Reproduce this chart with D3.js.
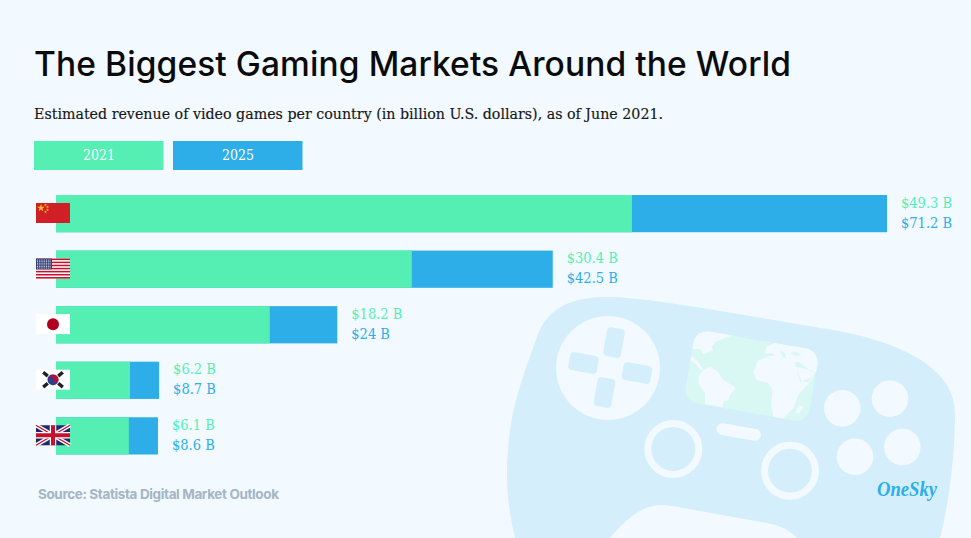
<!DOCTYPE html>
<html lang="en">
<head>
<meta charset="UTF-8">
<title>The Biggest Gaming Markets Around the World</title>
<script src="https://cdn.jsdelivr.net/npm/d3@7"></script>
<style>
  html, body { margin: 0; padding: 0; background: #f2faff; }
  svg { display: block; }
  .serif { font-family: "DejaVu Serif Condensed", "DejaVu Serif", serif; }
  .sans { font-family: Inter, Lato, sans-serif; }
</style>
</head>
<body>
<svg width="971" height="538" viewBox="0 0 971 538"></svg>
<script>
const countries = ["China", "USA", "Japan", "South Korea", "UK"];
const revenue2021 = [49.3, 30.4, 18.2, 6.2, 6.1];
const revenue2025 = [71.2, 42.5, 24, 8.7, 8.6];
const years = ["2021", "2025"];

const GREEN = "#55efb3", BLUE = "#2daee8", BG = "#f2faff", PALE = "#d4eefb";
const barLeft = 56, flagX = 36, flagW = 34, flagH = 20;

const svg = d3.select("svg");
svg.append("rect").attr("width", 971).attr("height", 538).attr("fill", BG);

const x = d3.scaleLinear().domain([0, 71.2]).range([57.8, 887]);
const y = d3.scaleBand().domain(countries).range([195, 454.5]).paddingInner(0.33);

// background controller, page coordinates
function drawController(g) {
  g.append("path").attr("fill", PALE)
    .attr("d", `M515,538 C506,500 505,470 510,430 C515,395 527,365 537,337
      C548,305 575,296 613,297 C660,299 760,318 833,330 C880,338 955,360 955,413
      C955,450 950,500 940,538 L797,538 C785,526 775,525 767,523 L672,506
      C645,501 628,517 610,538 Z`);

  g.append("circle").attr("cx", 608).attr("cy", 368).attr("r", 52).attr("fill", BG);
  const pads = [[614, 342.5, 18, 29], [604.5, 392.5, 18, 29], [583.5, 363, 29, 18], [637, 373, 29, 18]];
  g.selectAll(".pad").data(pads).join("rect").attr("class", "pad")
    .attr("x", d => -d[2] / 2).attr("y", d => -d[3] / 2)
    .attr("width", d => d[2]).attr("height", d => d[3]).attr("rx", 4)
    .attr("transform", d => `translate(${d[0]},${d[1]}) rotate(10)`)
    .attr("fill", PALE);

  // map screen
  svg.append("defs").append("clipPath").attr("id", "screen")
    .append("rect").attr("x", -63).attr("y", -36.5).attr("width", 126).attr("height", 73)
    .attr("rx", 14).attr("transform", "translate(751.5,376) rotate(10)");
  const map = g.append("g").attr("clip-path", "url(#screen)");
  map.append("rect").attr("x", 680).attr("y", 320).attr("width", 150).attr("height", 120).attr("fill", "#d9f7f3");
  // continents traced at 3x from the screen's corner
  map.append("path").attr("fill", BG).attr("transform", "translate(675,320) scale(0.3333)").attr("d", `
    M30,20 L185,42 L150,55 L122,65 L110,80 L114,92 L90,100 L85,102 L75,87 L52,87 L46,95 L30,90 Z
    M42,108 L55,112 L68,125 L84,148 L76,150 L62,132 L42,118 Z
    M70,170 L85,150 L105,140 L130,155 L145,180 L183,203 L165,225 L160,240 L145,245 L143,262 L90,252 L90,220 L72,195 Z
    M235,155 L250,120 L285,107 L340,105 L360,130 L375,185 L400,185 L420,160 L410,180 L370,225 L355,265 L325,295 L295,290 L288,255 L293,210 L280,190 L245,180 Z
    M268,100 L275,80 L300,68 L440,70 L440,155 L422,158 L395,145 L372,125 L345,130 L310,115 L290,100 Z
    M362,140 L395,147 L420,160 L405,175 L380,185 Z
    M358,282 L374,256 L386,260 L376,276 Z`);
  map.append("path").attr("fill", "#d9f7f3").attr("transform", "translate(675,320) scale(0.3333)").attr("d", `
    M315,92 L330,98 L335,118 L322,108 Z M345,100 L365,95 L380,105 L360,108 Z M310,112 L365,128 L345,122 Z`);

  // sticks, pill, buttons
  [[673.3, 449], [790, 470.7]].forEach(c => {
    g.append("circle").attr("cx", c[0]).attr("cy", c[1]).attr("r", 25.5)
      .attr("fill", "none").attr("stroke", BG).attr("stroke-width", 7);
  });
  g.append("rect").attr("x", -22.5).attr("y", -6).attr("width", 45).attr("height", 12).attr("rx", 6)
    .attr("transform", "translate(738.7,432) rotate(10)").attr("fill", BG);
  [[842.3, 408.3], [890, 398.7], [855, 456.7], [902.3, 447]].forEach(c => {
    g.append("circle").attr("cx", c[0]).attr("cy", c[1]).attr("r", 18.3).attr("fill", BG);
  });
}
drawController(svg.append("g"));

// title block
svg.append("text").attr("class", "sans").attr("x", 34).attr("y", 76)
  .attr("font-size", 33.5).attr("font-weight", 500).attr("fill", "#0b0b0b")
  .attr("textLength", 757).attr("lengthAdjust", "spacing")
  .text("The Biggest Gaming Markets Around the World");
svg.append("text").attr("class", "serif").attr("x", 34).attr("y", 119)
  .attr("font-size", 15.5).attr("fill", "#161616").attr("stroke", "#161616").attr("stroke-width", 0.15)
  .attr("textLength", 629).attr("lengthAdjust", "spacingAndGlyphs")
  .text("Estimated revenue of video games per country (in billion U.S. dollars), as of June 2021.");

// legend
const legend = svg.append("g").selectAll("g").data(years).join("g")
  .attr("transform", (d, i) => `translate(${34 + i * 139},141)`);
legend.append("rect").attr("width", 129.5).attr("height", 29)
  .attr("fill", (d, i) => i ? BLUE : GREEN);
legend.append("text").attr("class", "serif").attr("x", 65).attr("y", 19)
  .attr("text-anchor", "middle").attr("font-size", 14).attr("fill", "#fff").text(d => d);

// bars: 2025 full length behind, 2021 on top
const rows = svg.append("g").selectAll("g").data(countries).join("g")
  .attr("transform", d => `translate(0,${y(d)})`);
rows.append("rect").attr("x", barLeft).attr("height", y.bandwidth())
  .attr("width", (d, i) => x(revenue2025[i]) - barLeft).attr("fill", BLUE);
rows.append("rect").attr("x", barLeft).attr("height", y.bandwidth())
  .attr("width", (d, i) => x(revenue2021[i]) - barLeft).attr("fill", GREEN);

const money = v => `$${v} B`;
rows.append("text").attr("class", "serif").attr("x", (d, i) => x(revenue2025[i]) + 14).attr("y", 12.5)
  .attr("font-size", 14.5).attr("fill", GREEN).text((d, i) => money(revenue2021[i]));
rows.append("text").attr("class", "serif").attr("x", (d, i) => x(revenue2025[i]) + 14).attr("y", 32.5)
  .attr("font-size", 14.5).attr("fill", BLUE).text((d, i) => money(revenue2025[i]));

// flags
const flags = {
  "China": g => {
    g.append("rect").attr("width", flagW).attr("height", flagH).attr("fill", "#d01f26");
    g.append("path").attr("d", d3.symbol(d3.symbolStar, 18)).attr("transform", "translate(5,5)").attr("fill", "#f9c41c");
    [[9.5, 2], [11.5, 4], [11.5, 7], [9.5, 9]].forEach(p => {
      g.append("path").attr("d", d3.symbol(d3.symbolStar, 3)).attr("transform", `translate(${p})`).attr("fill", "#f9c41c");
    });
  },
  "USA": g => {
    g.append("rect").attr("width", flagW).attr("height", flagH).attr("fill", "#fff");
    d3.range(0, 13, 2).forEach(i => {
      g.append("rect").attr("y", i * flagH / 13).attr("width", flagW).attr("height", flagH / 13).attr("fill", "#c8102e");
    });
    g.append("rect").attr("width", 16).attr("height", 10.8).attr("fill", "#2e3a70");
    d3.range(6).forEach(r => d3.range(8).forEach(c => {
      g.append("rect").attr("x", 1 + c * 1.8).attr("y", 1 + r * 1.6).attr("width", 1).attr("height", 1).attr("fill", "#d5dae8");
    }));
  },
  "Japan": g => {
    g.append("rect").attr("width", flagW).attr("height", flagH).attr("fill", "#fff");
    g.append("circle").attr("cx", 17).attr("cy", 10).attr("r", 6).attr("fill", "#b00020");
  },
  "South Korea": g => {
    g.append("rect").attr("width", flagW).attr("height", flagH).attr("fill", "#fff");
    g.append("circle").attr("cx", 17).attr("cy", 10).attr("r", 5.5).attr("fill", "#2b3f8c");
    g.append("path").attr("d", "M11.6,10 A5.5,5.5 0 0 1 22.5,10 A2.7,2.7 0 0 1 17,10 A2.7,2.7 0 0 0 11.6,10 Z").attr("fill", "#b5103c");
    [[9.5, 4.5, 40], [24.5, 4.5, -40], [9.5, 15.5, -40], [24.5, 15.5, 40]].forEach(t => {
      g.append("rect").attr("x", -3).attr("y", -1.7).attr("width", 6).attr("height", 3.4).attr("fill", "#222")
        .attr("transform", `translate(${t[0]},${t[1]}) rotate(${t[2]})`);
    });
  },
  "UK": g => {
    g.append("rect").attr("width", flagW).attr("height", flagH).attr("fill", "#1f2a6b");
    const diag = `M0,0 L${flagW},${flagH} M${flagW},0 L0,${flagH}`;
    g.append("path").attr("d", diag).attr("stroke", "#fff").attr("stroke-width", 4);
    g.append("path").attr("d", diag).attr("stroke", "#c8102e").attr("stroke-width", 1.4);
    const cross = `M17,0 V${flagH} M0,10 H${flagW}`;
    g.append("path").attr("d", cross).attr("stroke", "#fff").attr("stroke-width", 6.5);
    g.append("path").attr("d", cross).attr("stroke", "#c8102e").attr("stroke-width", 4);
  }
};
rows.append("g").attr("transform", `translate(${flagX},8)`)
  .each(function (d) { flags[d](d3.select(this)); });

// footer
svg.append("text").attr("class", "sans").attr("x", 38).attr("y", 499)
  .attr("font-size", 13.5).attr("font-weight", 700).attr("fill", "#a3b5c5")
  .attr("textLength", 241).attr("lengthAdjust", "spacing")
  .text("Source: Statista Digital Market Outlook");
svg.append("text").attr("x", 877).attr("y", 496)
  .style("font-family", '"Liberation Serif", serif').attr("font-style", "italic").attr("font-weight", 700)
  .attr("font-size", 22).attr("fill", BLUE)
  .attr("textLength", 60).attr("lengthAdjust", "spacingAndGlyphs").text("OneSky");
</script>
</body>
</html>
